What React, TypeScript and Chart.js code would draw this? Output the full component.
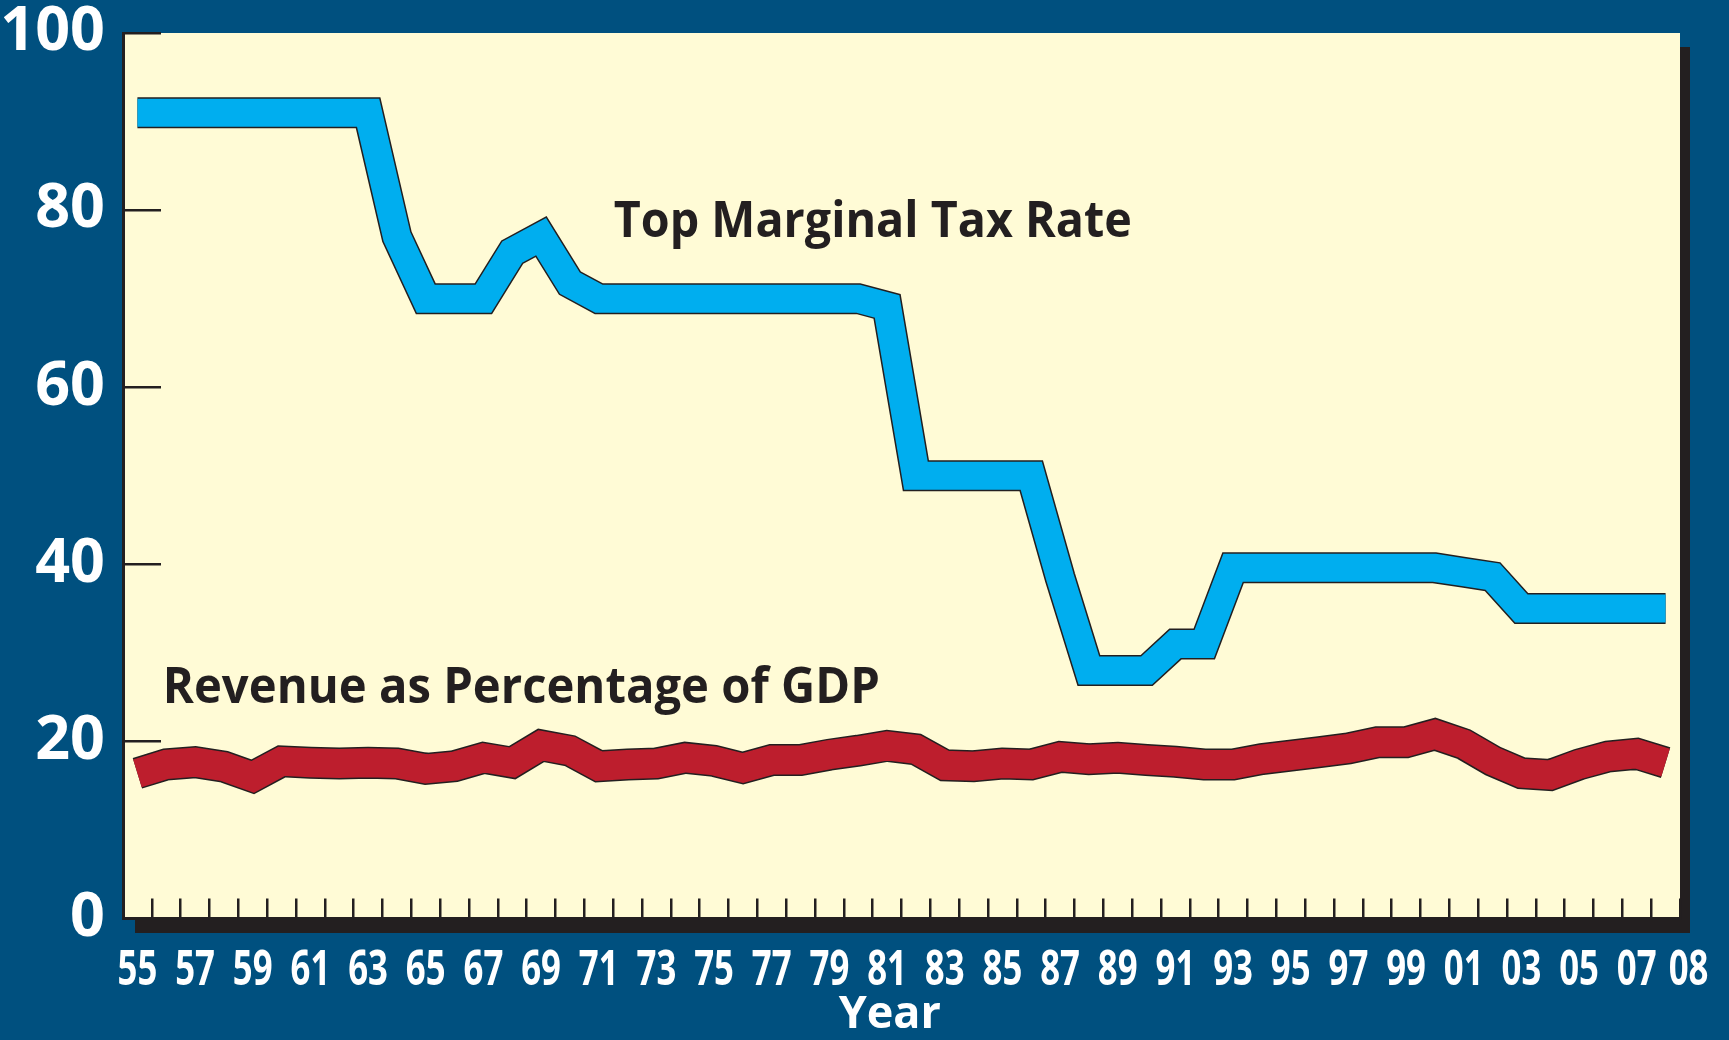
import React, { useEffect, useRef } from 'react';
import { Chart, registerables } from 'chart.js';

Chart.register(...registerables);

// ---------- data ----------
const years = [
  1955, 1956, 1957, 1958, 1959, 1960, 1961, 1962, 1963, 1964,
  1965, 1966, 1967, 1968, 1969, 1970, 1971, 1972, 1973, 1974,
  1975, 1976, 1977, 1978, 1979, 1980, 1981, 1982, 1983, 1984,
  1985, 1986, 1987, 1988, 1989, 1990, 1991, 1992, 1993, 1994,
  1995, 1996, 1997, 1998, 1999, 2000, 2001, 2002, 2003, 2004,
  2005, 2006, 2007, 2008,
];

const topMarginalTaxRate = [
  91, 91, 91, 91, 91, 91, 91, 91, 91, 77,
  70, 70, 70, 75.25, 77, 71.75, 70, 70, 70, 70,
  70, 70, 70, 70, 70, 70, 69.13, 50, 50, 50,
  50, 50, 38.5, 28, 28, 28, 31, 31, 39.6, 39.6,
  39.6, 39.6, 39.6, 39.6, 39.6, 39.6, 39.1, 38.6, 35, 35,
  35, 35, 35, 35,
];

const revenuePctGdp = [
  16.4, 17.4, 17.65, 17.15, 16.0, 17.75, 17.6, 17.5, 17.6, 17.5,
  16.9, 17.2, 18.15, 17.6, 19.55, 18.95, 17.2, 17.4, 17.5, 18.15,
  17.8, 17.0, 17.9, 17.9, 18.5, 18.95, 19.5, 19.1, 17.3, 17.2,
  17.5, 17.4, 18.25, 18.0, 18.15, 17.9, 17.7, 17.4, 17.4, 18.0,
  18.4, 18.8, 19.2, 19.9, 19.9, 20.8, 19.7, 17.8, 16.4, 16.2,
  17.4, 18.3, 18.6, 17.6,
];

const yTickValues = [0, 20, 40, 60, 80, 100];

const xLabelYears = [
  1955, 1957, 1959, 1961, 1963, 1965, 1967, 1969, 1971, 1973,
  1975, 1977, 1979, 1981, 1983, 1985, 1987, 1989, 1991, 1993,
  1995, 1997, 1999, 2001, 2003, 2005, 2007, 2008,
];
const xTickLabels = [
  '55', '57', '59', '61', '63', '65', '67', '69', '71', '73',
  '75', '77', '79', '81', '83', '85', '87', '89', '91', '93',
  '95', '97', '99', '01', '03', '05', '07', '08',
];

const seriesLabels = ['Top Marginal Tax Rate', 'Revenue as Percentage of GDP'];
const xTitle = 'Year';

// ---------- styles ----------
const NAVY = '#00507f';
const PAPER = '#fffbd6';
const INK = '#231f20';
const BLUE = '#00aeef';
const RED = '#bd1e2d';
const SANS = "'Open Sans', 'Noto Sans', sans-serif";
const ANNOT_FONT = "bold 50px 'Open Sans', 'Noto Sans', sans-serif";
const XLABEL_FONT = "bold 49px 'Open Sans', 'Noto Sans', sans-serif";
const XLABEL_SQUEEZE = 0.71; // condensed look of the x tick labels
const XLABEL_BASELINE_GAP = 66; // px below the x axis
const LAST_LABEL_NUDGE = 23; // "08" sits to the right of its tick

// annotation anchors in data space: [startIndex, endIndex, baselineValue]
const annotations = [
  { text: seriesLabels[0], i0: 16.52, i1: 34.49, v: 77.0 },
  { text: seriesLabels[1], i0: 0.88, i1: 25.75, v: 24.3 },
];

const backgroundPlugin = {
  id: 'paperBackground',
  beforeDraw(chart: any) {
    const { ctx, chartArea: a, width, height } = chart;
    ctx.save();
    ctx.fillStyle = NAVY;
    ctx.fillRect(0, 0, width, height);
    ctx.fillStyle = INK;
    ctx.fillRect(a.left + 12, a.top + 14, a.right + 10 - (a.left + 12), a.bottom + 14.5 - (a.top + 14));
    ctx.fillStyle = PAPER;
    ctx.fillRect(a.left, a.top, a.right - a.left, a.bottom - a.top);
    ctx.restore();
  },
};

const annotationPlugin = {
  id: 'seriesAnnotations',
  afterDatasetsDraw(chart: any) {
    const { ctx } = chart;
    const xs = chart.scales.x;
    const ys = chart.scales.y;
    ctx.save();
    ctx.font = ANNOT_FONT;
    ctx.fillStyle = INK;
    ctx.textBaseline = 'alphabetic';
    ctx.textAlign = 'left';
    for (const a of annotations) {
      const x0 = xs.getPixelForValue(a.i0);
      const x1 = xs.getPixelForValue(a.i1);
      const y = ys.getPixelForValue(a.v);
      const w = ctx.measureText(a.text).width;
      const sx = (x1 - x0) / w;
      ctx.save();
      ctx.translate(x0, y);
      ctx.scale(sx, 1);
      ctx.fillText(a.text, 0, 0);
      ctx.restore();
    }
    ctx.restore();
  },
};

// condensed x tick labels, placed at the category scale's tick positions
const xLabelPlugin = {
  id: 'condensedXLabels',
  afterDraw(chart: any) {
    const { ctx, chartArea } = chart;
    const xs = chart.scales.x;
    ctx.save();
    ctx.font = XLABEL_FONT;
    ctx.fillStyle = '#ffffff';
    ctx.textAlign = 'center';
    ctx.textBaseline = 'alphabetic';
    const y = chartArea.bottom + XLABEL_BASELINE_GAP;
    years.forEach((yr, idx) => {
      const i = xLabelYears.indexOf(yr);
      if (i < 0) return;
      let x = xs.getPixelForTick(idx);
      if (i === xTickLabels.length - 1) x += LAST_LABEL_NUDGE;
      ctx.save();
      ctx.translate(x, y);
      ctx.scale(XLABEL_SQUEEZE, 1);
      ctx.fillText(xTickLabels[i], 0, 0);
      ctx.restore();
    });
    ctx.restore();
  },
};

export default function App() {
  const canvasRef = useRef<HTMLCanvasElement | null>(null);

  useEffect(() => {
    document.body.style.margin = '0';
    document.body.style.background = NAVY;
    const canvas = canvasRef.current;
    if (!canvas) return;

    const lineBase = {
      pointRadius: 0,
      pointHoverRadius: 0,
      tension: 0,
      fill: false,
      borderJoinStyle: 'miter' as const,
      borderCapStyle: 'butt' as const,
      clip: false as const,
    };

    const zeroPadding = (s: any) => {
      s.paddingTop = 0;
      s.paddingBottom = 0;
      s.paddingLeft = 0;
      s.paddingRight = 0;
    };

    const chart = new Chart(canvas, {
      type: 'line',
      data: {
        labels: years.map(String),
        datasets: [
          { ...lineBase, label: seriesLabels[1], data: revenuePctGdp, borderColor: RED, borderWidth: 29, order: 0 },
          { ...lineBase, label: seriesLabels[1] + ' outline', data: revenuePctGdp, borderColor: INK, borderWidth: 32, order: 1 },
          { ...lineBase, label: seriesLabels[0], data: topMarginalTaxRate, borderColor: BLUE, borderWidth: 28, order: 2 },
          { ...lineBase, label: seriesLabels[0] + ' outline', data: topMarginalTaxRate, borderColor: INK, borderWidth: 31, order: 3 },
        ],
      },
      options: {
        responsive: false,
        animation: false,
        events: [],
        layout: { padding: { top: 33, right: 49, left: 0, bottom: 0 } },
        plugins: {
          legend: { display: false },
          tooltip: { enabled: false },
          title: { display: false },
        },
        scales: {
          x: {
            type: 'category',
            offset: true,
            grid: {
              display: true,
              offset: true,
              drawOnChartArea: false,
              drawTicks: true,
              tickLength: -20,
              color: INK,
              lineWidth: 2.5,
            },
            border: { display: true, color: INK, width: 3 },
            ticks: {
              display: false,
              autoSkip: false,
              maxRotation: 0,
              minRotation: 0,
            },
            title: {
              display: true,
              text: xTitle + '  ',
              color: '#ffffff',
              font: { family: SANS, size: 45, weight: 'bold', lineHeight: 1 },
              padding: { top: 0, bottom: 2.5 },
            },
            afterFit: (s: any) => {
              s.height = 121.5;
              zeroPadding(s);
            },
          },
          y: {
            type: 'linear',
            min: 0,
            max: 100,
            afterBuildTicks: (s: any) => {
              s.ticks = yTickValues.map((v) => ({ value: v }));
            },
            grid: {
              display: true,
              drawOnChartArea: false,
              drawTicks: true,
              tickLength: -38,
              color: INK,
              lineWidth: 2.5,
            },
            border: { display: true, color: INK, width: 3 },
            ticks: {
              padding: 56,
              color: '#ffffff',
              font: { family: SANS, size: 61, weight: 'bold', lineHeight: 1 },
            },
            afterFit: (s: any) => {
              s.width = 123;
              zeroPadding(s);
            },
          },
        },
      },
      plugins: [backgroundPlugin, annotationPlugin, xLabelPlugin],
    });

    return () => {
      chart.destroy();
    };
  }, []);

  return (
    <div style={{ width: 1729, height: 1040, background: NAVY }}>
      <canvas ref={canvasRef} width={1729} height={1040} style={{ display: 'block', width: 1729, height: 1040 }} />
    </div>
  );
}
